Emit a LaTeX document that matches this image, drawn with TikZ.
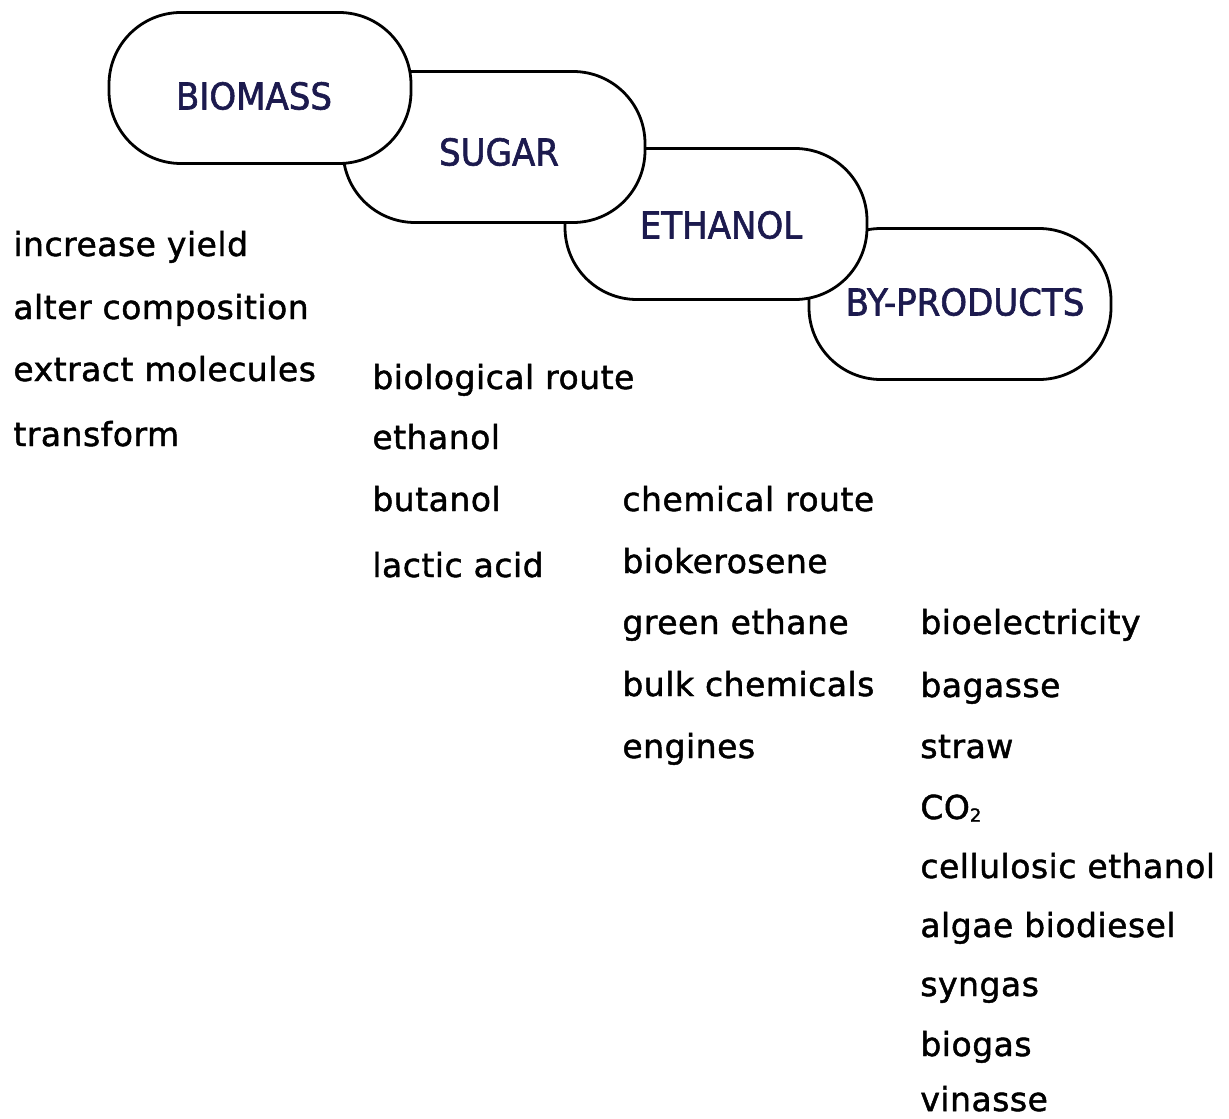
\documentclass[tikz,border=0pt]{standalone}
\usepackage{fontspec}
\setmainfont{DejaVu Sans}[LetterSpace=1.5,FakeBold=1.4]
\newfontfamily\boxfont{DejaVu Sans}[FakeStretch=0.92,FakeBold=1.6]
\definecolor{navy}{HTML}{1C1A4E}
\tikzset{
  stage/.style={draw=black, line width=1.4pt, fill=white, rounded corners=36pt,
    minimum width=151pt, minimum height=75.5pt, inner sep=0pt},
  stagelabel/.style={font=\boxfont\fontsize{18.5}{20}\selectfont, text=navy, inner sep=0pt},
  item/.style={anchor=base west, inner sep=0pt, font=\fontsize{16.5}{18}\selectfont}
}
\begin{document}
\begin{tikzpicture}[x=0.5pt,y=-0.5pt]
\useasboundingbox (0,0) rectangle (1229,1118);
% stages, drawn back to front
\node[stage] (bp)  at (960,304) {};
\node[stage] (eth) at (716,224) {};
\node[stage] (sug) at (494,147) {};
\node[stage] (bio) at (260,88) {};
\node[stagelabel] (biol) at (254,96) {BIOMASS};
\node[stagelabel] (sugl) at (499,152) {SUGAR};
\node[stagelabel] (ethl) at (721,225) {ETHANOL};
\node[stagelabel] (bpl)  at (965,302) {BY-PRODUCTS};
% column 1
\node[item] (a1) at (13,256) {increase yield};
\node[item] (a2) at (13,319) {alter composition};
\node[item] (a3) at (13,381) {extract molecules};
\node[item] (a4) at (13,446) {transform};
% column 2
\node[item] (b1) at (372,389) {biological route};
\node[item] (b2) at (372,449) {ethanol};
\node[item] (b3) at (372,511) {butanol};
\node[item] (b4) at (372,577) {lactic acid};
% column 3
\node[item] (c1) at (622,511) {chemical route};
\node[item] (c2) at (622,573) {biokerosene};
\node[item] (c3) at (622,634) {green ethane};
\node[item] (c4) at (622,696) {bulk chemicals};
\node[item] (c5) at (622,758) {engines};
% column 4
\node[item] (d1) at (920,634) {bioelectricity};
\node[item] (d2) at (920,697) {bagasse};
\node[item] (d3) at (920,758) {straw};
\node[item] (d4) at (920,819) {CO\raisebox{-0.08em}{\fontsize{9}{9}\selectfont 2}};
\node[item] (d5) at (920,878) {cellulosic ethanol};
\node[item] (d6) at (920,937) {algae biodiesel};
\node[item] (d7) at (920,996) {syngas};
\node[item] (d8) at (920,1056) {biogas};
\node[item] (d9) at (920,1111) {vinasse};
\end{tikzpicture}
\end{document}
